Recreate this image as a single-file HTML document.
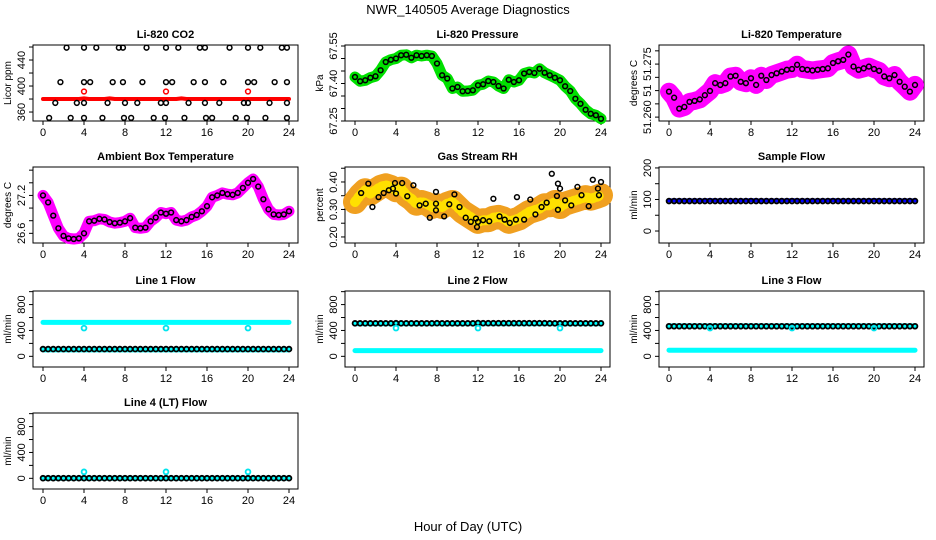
<!DOCTYPE html>
<html><head><meta charset="utf-8">
<style>
html,body{margin:0;padding:0;background:#fff;}
svg{display:block;font-family:"Liberation Sans",sans-serif;}
</style></head>
<body>
<svg id="chart" width="936" height="540" viewBox="0 0 936 540" xmlns="http://www.w3.org/2000/svg">
<rect x="0" y="0" width="936" height="540" fill="#fff"/>
<text x="468" y="14" text-anchor="middle" font-size="13">NWR_140505  Average Diagnostics</text>
<text x="468" y="531" text-anchor="middle" font-size="13">Hour of Day (UTC)</text>
</svg>
<script>
const H = [0,0.5,1,1.5,2,2.5,3,3.5,4,4.5,5,5.5,6,6.5,7,7.5,8,8.5,9,9.5,10,10.5,11,11.5,12,12.5,13,13.5,14,14.5,15,15.5,16,16.5,17,17.5,18,18.5,19,19.5,20,20.5,21,21.5,22,22.5,23,23.5,24];
const xTicks = [0,4,8,12,16,20,24];

const co2Hours = [2.3,4.0,5.2,7.4,7.8,10.1,12.0,13.2,15.3,15.8,18.2,20.0,21.2,23.3,23.8, 1.7,4.0,4.6,6.8,7.8,9.7,12.0,12.6,14.7,15.8,17.6,20.0,20.6,22.6,23.8, 1.2,3.3,4.0,6.3,8.0,9.2,11.5,12.0,14.2,15.8,17.2,19.6,20.0,22.1,23.8, 0.6,2.7,4.0,5.8,7.9,8.6,10.8,11.9,13.8,15.9,16.5,18.8,19.9,21.7,23.8];
const co2Vals = [459,459,459,459,459,459,459,459,459,459,459,459,459,459,459, 406,406,406,406,406,406,406,406,406,406,406,406,406,406,406, 374,374,374,374,374,374,374,374,374,374,374,374,374,374,374, 351,351,351,351,351,351,351,351,351,351,351,351,351,351,351];
const co2Red = [380,380,380,380,380,380,380,380,381,380,380,380,380,381,380,380,380,380,380,380,380,380,380,380,380,380,380,381,380,380,380,380,380,380,380,380,380,380,380,380,380,380,380,380,380,380,380,380,380];
const co2RedHours = [4,12,20];
const co2RedVals = [391.6,391.6,391.6];

const pressure = [67.426,67.409,67.413,67.423,67.429,67.453,67.486,67.495,67.500,67.513,67.515,67.503,67.513,67.510,67.513,67.510,67.480,67.433,67.420,67.380,67.386,67.369,67.370,67.373,67.393,67.397,67.410,67.406,67.390,67.380,67.415,67.406,67.413,67.440,67.446,67.442,67.459,67.443,67.433,67.423,67.413,67.389,67.370,67.339,67.319,67.295,67.279,67.273,67.259];

const liTemp = [51.2672,51.2655,51.2624,51.2629,51.2643,51.2646,51.2650,51.2662,51.2674,51.2696,51.2691,51.2696,51.2715,51.2717,51.2700,51.2696,51.2710,51.2691,51.2717,51.2705,51.2719,51.2724,51.2729,51.2734,51.2736,51.2748,51.2736,51.2734,51.2732,51.2734,51.2736,51.2738,51.2753,51.2758,51.2762,51.2777,51.2743,51.2734,51.2738,51.2743,51.2736,51.2731,51.2715,51.2710,51.2719,51.2700,51.2686,51.2672,51.2691];

const ambient = [27.20,27.09,26.88,26.68,26.56,26.52,26.51,26.52,26.60,26.79,26.80,26.83,26.82,26.78,26.76,26.77,26.79,26.84,26.69,26.68,26.69,26.79,26.85,26.93,26.91,26.93,26.81,26.79,26.81,26.86,26.89,26.95,27.03,27.17,27.20,27.24,27.22,27.21,27.24,27.32,27.40,27.46,27.34,27.14,26.98,26.90,26.89,26.90,26.95];

const rhBand = [0.327,0.352,0.370,0.358,0.370,0.382,0.388,0.382,0.370,0.376,0.352,0.339,0.321,0.327,0.321,0.309,0.315,0.309,0.321,0.327,0.309,0.291,0.279,0.267,0.255,0.261,0.261,0.270,0.273,0.267,0.255,0.261,0.267,0.279,0.291,0.297,0.303,0.315,0.315,0.327,0.309,0.321,0.327,0.333,0.339,0.345,0.339,0.345,0.352];
const rhHours = [0.6,1.3,1.7,2.3,2.8,3.3,3.7,3.9,4.0,4.6,5.1,5.7,6.3,6.9,7.3,7.9,7.9,7.9,8.7,9.2,9.7,10.2,10.8,11.3,11.8,11.9,12.0,12.5,13.1,13.5,14.1,14.6,15.1,15.7,15.8,16.5,17.1,17.6,18.2,18.7,19.2,19.7,19.8,19.8,20.0,20.5,21.1,21.7,22.1,22.8,23.2,23.7,23.8,24.0];
const rhVals = [0.36,0.394,0.309,0.345,0.36,0.37,0.376,0.396,0.358,0.396,0.348,0.388,0.315,0.321,0.27,0.321,0.297,0.364,0.275,0.319,0.355,0.309,0.27,0.255,0.267,0.236,0.255,0.261,0.257,0.339,0.275,0.263,0.251,0.263,0.345,0.263,0.336,0.282,0.309,0.325,0.43,0.349,0.394,0.299,0.376,0.333,0.315,0.382,0.352,0.312,0.408,0.376,0.352,0.40];

const sampleBlue = [97,97,97,97,97,97,97,97,98,97,97,97,97,97,97,97,98,97,97,97,97,97,97,97,98,97,97,97,97,97,97,97,98,97,97,97,97,97,97,97,98,97,97,97,97,97,97,97,97];
const sampleBlack = [95,95,95,95,95,95,95,95,95,95,95,95,95,95,95,95,95,95,95,95,95,95,95,95,95,95,95,95,95,95,95,95,95,95,95,95,95,95,95,95,95,95,95,95,95,95,95,95,95];

const line1Cyan = [525,525,525,525,525,525,525,525,525,525,525,525,525,525,525,525,525,525,525,525,525,525,525,525,525,525,525,525,525,525,525,525,525,525,525,525,525,525,525,525,525,525,525,525,525,525,525,525,525];
const line1CyanLow = [100,100,100,100,100,100,100,100,100,100,100,100,100,100,100,100,100,100,100,100,100,100,100,100,100,100,100,100,100,100,100,100,100,100,100,100,100,100,100,100,100,100,100,100,100,100,100,100,100];
const line1Black = [112,112,112,112,112,112,112,112,112,112,112,112,112,112,112,112,112,112,112,112,112,112,112,112,112,112,112,112,112,112,112,112,112,112,112,112,112,112,112,112,112,112,112,112,112,112,112,112,112];
const line2Cyan = [505,505,505,505,505,505,505,505,505,505,505,505,505,505,505,505,505,505,505,505,505,505,505,505,505,505,505,505,505,505,505,505,505,505,505,505,505,505,505,505,505,505,505,505,505,505,505,505,505];
const line2CyanLow = [88,88,88,88,88,88,88,88,88,88,88,88,88,88,88,88,88,88,88,88,88,88,88,88,88,88,88,88,88,88,88,88,88,88,88,88,88,88,88,88,88,88,88,88,88,88,88,88,88];
const line2Black = [510,510,510,510,510,510,510,510,512,510,510,510,510,510,510,510,512,510,510,510,510,510,510,510,515,512,512,512,512,512,512,512,512,512,512,512,512,512,510,510,510,510,510,510,510,510,510,510,510];
const line3Cyan = [470,470,470,470,470,470,470,470,470,470,470,470,470,470,470,470,470,470,470,470,470,470,470,470,470,470,470,470,470,470,470,470,470,470,470,470,470,470,470,470,470,470,470,470,470,470,470,470,470];
const line3CyanLow = [95,95,95,95,95,95,95,95,95,95,95,95,95,95,95,95,95,95,95,95,95,95,95,95,95,95,95,95,95,95,95,95,95,95,95,95,95,95,95,95,95,95,95,95,95,95,95,95,95];
const line3Black = [465,465,465,465,465,465,465,465,465,465,465,465,465,465,465,465,465,465,465,465,465,465,465,465,465,465,465,465,465,465,465,465,465,465,465,465,465,465,465,465,465,465,465,465,465,465,465,465,465];
const line4Cyan = [0,0,0,0,0,0,0,0,0,0,0,0,0,0,0,0,0,0,0,0,0,0,0,0,0,0,0,0,0,0,0,0,0,0,0,0,0,0,0,0,0,0,0,0,0,0,0,0,0];
const line4Black = [2,2,2,2,2,2,2,2,2,2,2,2,2,2,2,2,2,2,2,2,2,2,2,2,2,2,2,2,2,2,2,2,2,2,2,2,2,2,2,2,2,2,2,2,2,2,2,2,2];
const dipHours = [4,12,20];
const line1Dips = [436,436,436];
const line2Dips = [436,436,436];
const line3Dips = [436,436,436];
const line4Dips = [100,100,100];

const NS = "http://www.w3.org/2000/svg";
const svg = document.getElementById('chart');
const colLeft = [33,345,659], rowTop = [45,167,291,413], PW = 265, PH = 76;

function mk(tag, attrs, parent){ const e=document.createElementNS(NS,tag); for(const k in attrs) e.setAttribute(k,attrs[k]); (parent||svg).appendChild(e); return e; }

function panel(name, col, row, title, ylab, ylim, yticks, ylabels){
  const L=colLeft[col], T=rowTop[row];
  const g=mk('g',{});
  
  
  const sx=h=>L+10+h*10.25;
  const sy=v=>T+PH-(v-ylim[0])/(ylim[1]-ylim[0])*PH;
  const t=mk('text',{x:L+PW/2,y:T-7,'text-anchor':'middle','font-size':11,'font-weight':'bold'},g);
  t.textContent=title;
  
  
  const box=mk('rect',{x:L,y:T,width:PW,height:PH,fill:'none',stroke:'#000','stroke-width':1},g);
  
  
  const xa=mk('g',{},g);
  
  
  mk('line',{x1:sx(0),x2:sx(24),y1:T+PH,y2:T+PH,stroke:'#000'},xa);
  xTicks.forEach(v=>{
    mk('line',{x1:sx(v),x2:sx(v),y1:T+PH,y2:T+PH+4,stroke:'#000'},xa);
    const tl=mk('text',{x:sx(v),y:T+PH+15,'text-anchor':'middle','font-size':11},xa);
    tl.textContent=v;
  });
  const ya=mk('g',{},g);
  
  
  yticks.forEach(v=>{ mk('line',{x1:L-4,x2:L,y1:sy(v),y2:sy(v),stroke:'#000'},ya); });
  mk('line',{x1:L,x2:L,y1:sy(yticks[0]),y2:sy(yticks[yticks.length-1]),stroke:'#000'},ya);
  ylabels.forEach(p=>{
    const tx=L-8, ty=sy(p[0]);
    const tl=mk('text',{x:tx,y:ty,'text-anchor':'middle','font-size':11,transform:`rotate(-90 ${tx} ${ty})`},ya);
    tl.textContent=p[1];
  });
  const yl=mk('text',{x:L-22,y:T+PH/2,'text-anchor':'middle','font-size':10,transform:`rotate(-90 ${L-22} ${T+PH/2})`},g);
  yl.textContent=ylab;
  
  
  return {g,sx,sy};
}
function band(p, xs, ys, color, w, nm, dash){
  const d=xs.map((h,i)=>(i?'L':'M')+p.sx(h).toFixed(1)+' '+p.sy(ys[i]).toFixed(1)).join(' ');
  const e=mk('path',{d,fill:'none',stroke:color,'stroke-width':w,'stroke-linejoin':'round','stroke-linecap':'round'},p.g);
  if(dash) e.setAttribute('stroke-dasharray',dash);
  
  
}
function pts(p, xs, ys, color, nm, sw){
  const gg=mk('g',{},p.g);
  
  
  xs.forEach((h,i)=>{ mk('circle',{cx:p.sx(h),cy:p.sy(ys[i]),r:2.4,fill:'none',stroke:color,'stroke-width':sw||1.5},gg); });
}

let p=panel('co2',0,0,'Li-820 CO2','Licor ppm',[346.2,463.1],[360,380,400,420,440,460],[[360,'360'],[400,'400'],[440,'440']]);
band(p,H,co2Red,'#f00',4,'co2-red-series');
pts(p,co2Hours,co2Vals,'#000','co2-black-points');
pts(p,co2RedHours,co2RedVals,'#f00','co2-red-points');

p=panel('pressure',1,0,'Li-820 Pressure','kPa',[67.25,67.554],[67.25,67.30,67.35,67.40,67.45,67.50,67.55],[[67.25,'67.25'],[67.40,'67.40'],[67.55,'67.55']]);
band(p,H,pressure,'#00e000',11,'pressure-green-series');
pts(p,H,pressure,'#000','pressure-black-points');

p=panel('li-temperature',2,0,'Li-820 Temperature','degrees C',[51.2589,51.2804],[51.2600,51.26375,51.2675,51.27125,51.2750,51.27875],[[51.2600,'51.260'],[51.2675,'51'],[51.2750,'51.275']]);
band(p,H,liTemp,'#ff00ff',18,'li-temperature-magenta-series');
pts(p,H,liTemp,'#000','li-temperature-black-points');

p=panel('ambient-temperature',0,1,'Ambient Box Temperature','degrees C',[26.447,27.65],[26.6,26.8,27.0,27.2,27.4,27.6],[[26.6,'26.6'],[27.2,'27.2']]);
band(p,H,ambient,'#ff00ff',11,'ambient-magenta-series');
pts(p,H,ambient,'#000','ambient-black-points');

p=panel('gas-stream-rh',1,1,'Gas Stream RH','percent',[0.178,0.4545],[0.20,0.25,0.30,0.35,0.40,0.45],[[0.20,'0.20'],[0.30,'0.30'],[0.40,'0.40']]);
band(p,H,rhBand,'#f0a020',24,'rh-orange-series');
band(p,H,rhBand,'#ffe000',10,'rh-yellow-series','2 3');
pts(p,rhHours,rhVals,'#000','rh-black-points');

p=panel('sample-flow',2,1,'Sample Flow','ml/min',[-38,203],[0,50,100,150,200],[[0,'0'],[100,'100'],[200,'200']]);
band(p,H,sampleBlue,'#0000ff',4,'sample-flow-blue-series');
pts(p,H,sampleBlack,'#000','sample-flow-black-points',1.8);

const flowTicks=[0,200,400,600,800,1000], flowLabels=[[0,'0'],[400,'400'],[800,'800']], flowLim=[-165,1010];
p=panel('line1-flow',0,2,'Line 1 Flow','ml/min',flowLim,flowTicks,flowLabels);
band(p,H,line1Cyan,'#00ffff',5,'line1-cyan-series');
band(p,H,line1CyanLow,'#00ffff',5,'line1-cyan-low-series');
pts(p,H,line1Black,'#000','line1-black-points',1.8);
pts(p,dipHours,line1Dips,'#00e5ee','line1-cyan-dips',1.8);

p=panel('line2-flow',1,2,'Line 2 Flow','ml/min',flowLim,flowTicks,flowLabels);
band(p,H,line2Cyan,'#00ffff',5,'line2-cyan-series');
band(p,H,line2CyanLow,'#00ffff',5,'line2-cyan-low-series');
pts(p,H,line2Black,'#000','line2-black-points',1.8);
pts(p,dipHours,line2Dips,'#00e5ee','line2-cyan-dips',1.8);

p=panel('line3-flow',2,2,'Line 3 Flow','ml/min',flowLim,flowTicks,flowLabels);
band(p,H,line3Cyan,'#00ffff',5,'line3-cyan-series');
band(p,H,line3CyanLow,'#00ffff',5,'line3-cyan-low-series');
pts(p,H,line3Black,'#000','line3-black-points',1.8);
pts(p,dipHours,line3Dips,'#00e5ee','line3-cyan-dips',1.8);

p=panel('line4-flow',0,3,'Line 4 (LT) Flow','ml/min',flowLim,flowTicks,flowLabels);
band(p,H,line4Cyan,'#00ffff',5,'line4-cyan-series');
pts(p,H,line4Black,'#000','line4-black-points',1.8);
pts(p,dipHours,line4Dips,'#00e5ee','line4-cyan-dips',1.8);
</script>
</body></html>
